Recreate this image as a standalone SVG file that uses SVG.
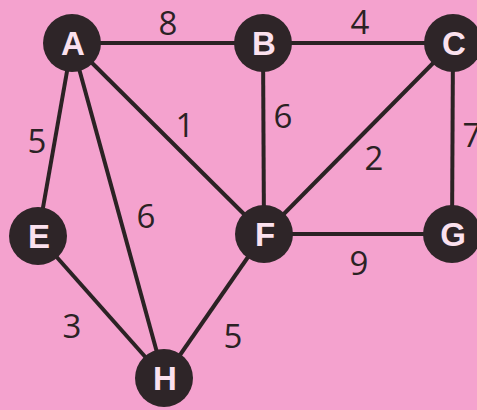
<svg xmlns="http://www.w3.org/2000/svg" width="477" height="410" viewBox="0 0 477 410">
<style>
.bg{fill:#f4a2ce}
.e{stroke:#2b2224;stroke-width:4;fill:none}
.n circle{fill:#2e2528}
.n text{fill:#fbe1ee;font-family:"Liberation Sans",Arial,sans-serif;font-weight:bold;font-size:33px;text-anchor:middle}
.w{fill:#2b2224;font-family:"Open Sans","Liberation Sans",sans-serif;font-size:33px;text-anchor:middle}
</style>
<rect class="bg" x="0" y="0" width="477" height="410"/>
<g id="connectors">
<line class="e" x1="72" y1="43" x2="263" y2="43"/>
<line class="e" x1="263" y1="43" x2="453" y2="43"/>
<line class="e" x1="72" y1="43" x2="38" y2="236"/>
<line class="e" x1="72" y1="43" x2="164" y2="378"/>
<line class="e" x1="72" y1="43" x2="264" y2="234"/>
<line class="e" x1="263" y1="43" x2="264" y2="234"/>
<line class="e" x1="453" y1="43" x2="264" y2="234"/>
<line class="e" x1="453" y1="43" x2="452" y2="234"/>
<line class="e" x1="264" y1="234" x2="452" y2="234"/>
<line class="e" x1="38" y1="236" x2="164" y2="378"/>
<line class="e" x1="264" y1="234" x2="164" y2="378"/>
</g>
<g id="labels">
<text class="w" x="168" y="35">8</text>
<text class="w" x="360" y="34">4</text>
<text class="w" x="37" y="153">5</text>
<text class="w" x="185" y="137">1</text>
<text class="w" x="283" y="128">6</text>
<text class="w" x="374" y="170">2</text>
<text class="w" x="472" y="147">7</text>
<text class="w" x="146" y="228">6</text>
<text class="w" x="359" y="275">9</text>
<text class="w" x="72" y="338">3</text>
<text class="w" x="233" y="348">5</text>
</g>
<g id="A" class="n"><circle cx="72" cy="43" r="29"/><text x="73" y="55">A</text></g>
<g id="B" class="n"><circle cx="263" cy="43" r="29"/><text x="264" y="55">B</text></g>
<g id="C" class="n"><circle cx="453" cy="43" r="29"/><text x="454" y="55">C</text></g>
<g id="E" class="n"><circle cx="38" cy="236" r="29"/><text x="39" y="248">E</text></g>
<g id="F" class="n"><circle cx="264" cy="234" r="29"/><text x="265" y="246">F</text></g>
<g id="G" class="n"><circle cx="452" cy="234" r="29"/><text x="453" y="246">G</text></g>
<g id="H" class="n"><circle cx="164" cy="378" r="29"/><text x="165" y="390">H</text></g>
</svg>
